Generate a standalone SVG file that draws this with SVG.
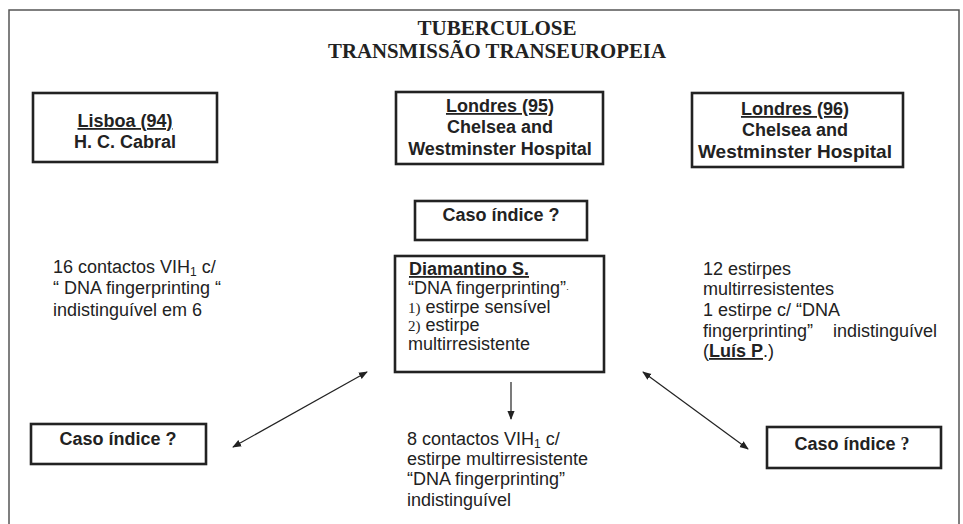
<svg xmlns="http://www.w3.org/2000/svg" width="963" height="524" viewBox="0 0 963 524">
<defs>
<style>
.frame{fill:none;stroke:#555;stroke-width:1.5}
.box{fill:#fff;stroke:#222;stroke-width:2.6}
.t{font-family:"Liberation Sans",Arial,sans-serif;font-size:18px;fill:#222}
.b{font-weight:bold}
.c{text-anchor:middle}
.u{text-decoration:underline}
.title{font-family:"Liberation Serif","Times New Roman",serif;font-size:22px;font-weight:bold;fill:#222;text-anchor:middle}
.sr{font-family:"Liberation Serif","Times New Roman",serif;font-size:15px}
.conn{stroke:#222;stroke-width:1.2;fill:none}
</style>
<marker id="ah" viewBox="0 0 10 10" refX="9" refY="5" markerWidth="9" markerHeight="9" markerUnits="userSpaceOnUse" orient="auto-start-reverse">
<path d="M0,1 L10,5 L0,9 z" fill="#222"/>
</marker>
</defs>
<rect x="0" y="0" width="963" height="524" fill="#fff"/>
<path class="frame" d="M9,530 L9,10 L959,10 L959,530"/>
<g id="title">
<text class="title" x="497" y="35" textLength="159" lengthAdjust="spacingAndGlyphs">TUBERCULOSE</text>
<text class="title" x="497" y="58" textLength="338" lengthAdjust="spacingAndGlyphs">TRANSMISSÃO TRANSEUROPEIA</text>
</g>
<g id="lisboa">
<rect class="box" x="33" y="93" width="184" height="69"/>
<text class="t b c u" x="125" y="127">Lisboa (94)</text>
<text class="t b c" x="125" y="148">H. C. Cabral</text>
</g>
<g id="londres95">
<rect class="box" x="396" y="92" width="207" height="72"/>
<text class="t b c u" x="500" y="112">Londres (95)</text>
<text class="t b c" x="500" y="133">Chelsea and</text>
<text class="t b c" x="500" y="155">Westminster Hospital</text>
</g>
<g id="londres96">
<rect class="box" x="692" y="93" width="211" height="74"/>
<text class="t b c u" x="795" y="115">Londres (96)</text>
<text class="t b c" x="795" y="136">Chelsea and</text>
<text class="t b c" x="795" y="158" style="font-size:19px">Westminster Hospital</text>
</g>
<g id="caso-centro">
<rect class="box" x="415" y="201" width="172" height="39"/>
<text class="t b c" x="501" y="221">Caso índice ?</text>
</g>
<g id="contactos16">
<text class="t" x="53" y="273">16 contactos VIH<tspan font-size="12" dy="3">1</tspan><tspan dy="-3"> c/</tspan></text>
<text class="t" x="53" y="294">“ DNA fingerprinting “</text>
<text class="t" x="53" y="316">indistinguível em 6</text>
</g>
<g id="diamantino">
<rect class="box" x="395" y="256" width="209" height="116"/>
<text class="t b u" x="409" y="275">Diamantino S.</text>
<text class="t" x="408" y="294">“DNA fingerprinting”<tspan font-size="9" dy="-2">·</tspan></text>
<text class="t" x="408" y="313"><tspan class="sr">1)</tspan> estirpe sensível</text>
<text class="t" x="408" y="331"><tspan class="sr">2)</tspan> estirpe</text>
<text class="t" x="408" y="350">multirresistente</text>
</g>
<g id="estirpes12">
<text class="t" x="703" y="275">12 estirpes</text>
<text class="t" x="703" y="295">multirresistentes</text>
<text class="t" x="703" y="316">1 estirpe c/ “DNA</text>
<text class="t" x="703" y="337">fingerprinting”</text>
<text class="t" x="833" y="337">indistinguível</text>
<text class="t" x="703" y="357">(<tspan class="b u">Luís P</tspan>.)</text>
</g>
<g id="caso-esq">
<rect class="box" x="31" y="424" width="175" height="40"/>
<text class="t b c" x="118" y="445">Caso índice ?</text>
</g>
<g id="contactos8">
<text class="t" x="407" y="445">8 contactos VIH<tspan font-size="12" dy="3">1</tspan><tspan dy="-3"> c/</tspan></text>
<text class="t" x="407" y="465">estirpe multirresistente</text>
<text class="t" x="407" y="485">“DNA fingerprinting”</text>
<text class="t" x="407" y="506">indistinguível</text>
</g>
<g id="caso-dir">
<rect class="box" x="767" y="427" width="174" height="41"/>
<text class="t b c" x="852" y="450">Caso índice <tspan font-family="Liberation Serif, serif">?</tspan></text>
</g>
<g id="connectors">
<line class="conn" x1="511" y1="382" x2="511" y2="419" marker-end="url(#ah)"/>
<line class="conn" x1="367" y1="372" x2="233" y2="447" marker-start="url(#ah)" marker-end="url(#ah)"/>
<line class="conn" x1="643" y1="372" x2="748" y2="449" marker-start="url(#ah)" marker-end="url(#ah)"/>
</g>
</svg>
